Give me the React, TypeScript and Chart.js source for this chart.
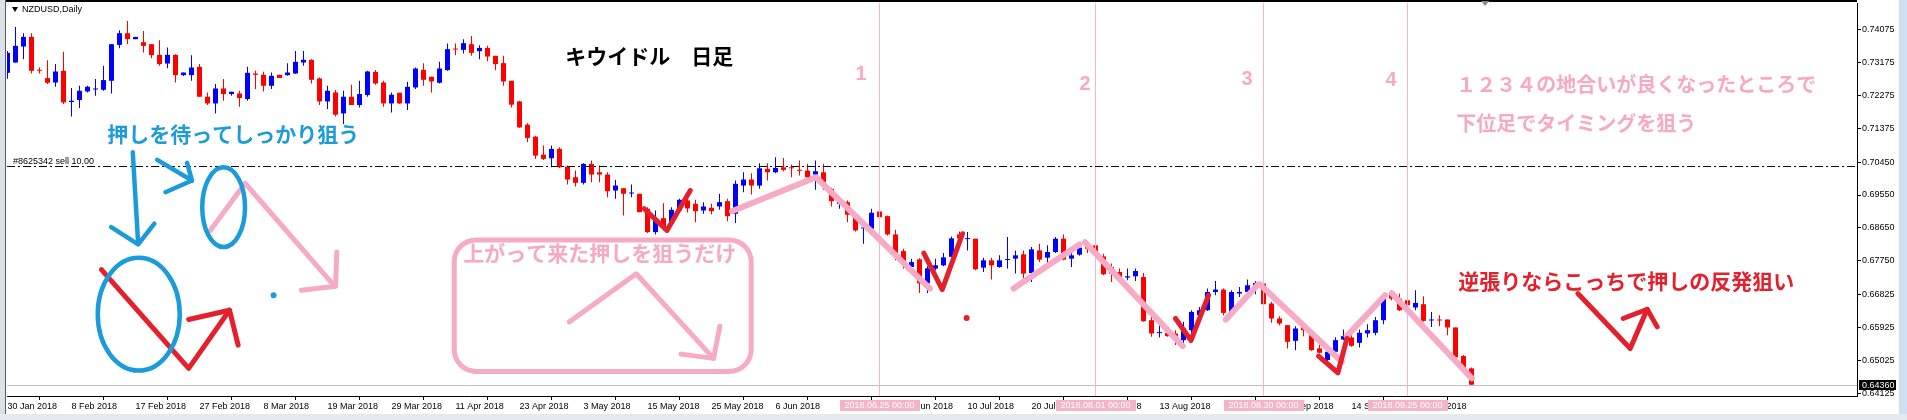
import React, { useEffect, useRef } from 'react';
import { Chart, registerables } from 'chart.js';

Chart.register(...registerables);

// ---------- NZDUSD daily OHLC (bar index 0 = 30 Jan 2018) ----------
const opens = [
  0.72893, 0.73174, 0.73611, 0.73876, 0.72975, 0.72748, 0.72628, 0.72948, 0.72094, 0.72148,
  0.72383, 0.72437, 0.72429, 0.72675, 0.73657, 0.73977, 0.73813, 0.73731, 0.73676, 0.73384,
  0.73147, 0.73384, 0.72830, 0.72830, 0.73057, 0.72238, 0.72055, 0.72465, 0.72312, 0.72328,
  0.72175, 0.72874, 0.72839, 0.72538, 0.72839, 0.72830, 0.72874, 0.73174, 0.73248, 0.72738,
  0.72110, 0.72356, 0.71782, 0.72238, 0.72012, 0.72285, 0.72920, 0.72628, 0.72055, 0.72347,
  0.72055, 0.72492, 0.72975, 0.72784, 0.72620, 0.72967, 0.73540, 0.73521, 0.73676, 0.73485,
  0.73575, 0.73357, 0.73158, 0.72675, 0.72110, 0.71474, 0.71147, 0.70655, 0.70554, 0.70811,
  0.70328, 0.70036, 0.69883, 0.70402, 0.70172, 0.70110, 0.69673, 0.69736, 0.69591, 0.69583,
  0.69174, 0.68535, 0.68917, 0.68764, 0.69127, 0.69400, 0.69310, 0.69127, 0.69201, 0.69236,
  0.69381, 0.69037, 0.69809, 0.69973, 0.69809, 0.70265, 0.70172, 0.70309, 0.70301, 0.70227,
  0.70219, 0.70110, 0.70172, 0.69719, 0.69310, 0.69354, 0.68944, 0.68636, 0.68628, 0.69100,
  0.68972, 0.68472, 0.68016, 0.67580, 0.67790, 0.67135, 0.67536, 0.67626, 0.67858, 0.68472,
  0.68344, 0.68355, 0.67563, 0.67763, 0.67580, 0.67771, 0.67809, 0.67926, 0.67416, 0.68035,
  0.67836, 0.67989, 0.68355, 0.67809, 0.67918, 0.68172, 0.68172, 0.67872, 0.67580, 0.67443,
  0.67290, 0.67326, 0.67307, 0.66125, 0.65770, 0.65779, 0.65762, 0.65579, 0.65852, 0.66262,
  0.66398, 0.66897, 0.66963, 0.66352, 0.66854, 0.66897, 0.67053, 0.67127, 0.66581, 0.66172,
  0.65989, 0.65560, 0.65942, 0.65716, 0.65353, 0.65034, 0.65260, 0.65598, 0.65653, 0.65506,
  0.65762, 0.65779, 0.66125, 0.66854, 0.66717, 0.66671, 0.66472, 0.66562, 0.66117, 0.66133,
  0.66144, 0.65926, 0.65143, 0.64807,
];
const highs = [
  0.73493, 0.74148, 0.73977, 0.73977, 0.73038, 0.73240, 0.73131, 0.73466, 0.72476, 0.72538,
  0.72538, 0.72721, 0.73084, 0.73676, 0.74058, 0.74312, 0.73876, 0.74039, 0.73676, 0.73786,
  0.73584, 0.73403, 0.72901, 0.73376, 0.73131, 0.72356, 0.72585, 0.72721, 0.72375, 0.72402,
  0.73057, 0.72948, 0.72920, 0.72901, 0.72839, 0.73158, 0.73493, 0.73493, 0.73267, 0.72765,
  0.72538, 0.72421, 0.72402, 0.72566, 0.72675, 0.72948, 0.72967, 0.72675, 0.72356, 0.72347,
  0.72648, 0.73038, 0.73158, 0.72784, 0.73193, 0.73693, 0.73693, 0.73813, 0.73903, 0.73649,
  0.73630, 0.73357, 0.73357, 0.72675, 0.72129, 0.71510, 0.71174, 0.70901, 0.70901, 0.70855,
  0.70355, 0.70219, 0.70418, 0.70492, 0.70355, 0.70172, 0.69965, 0.69736, 0.69837, 0.69583,
  0.69217, 0.69127, 0.69326, 0.69217, 0.69446, 0.69482, 0.69419, 0.69354, 0.69310, 0.69583,
  0.69446, 0.69946, 0.70172, 0.70145, 0.70418, 0.70418, 0.70582, 0.70565, 0.70382, 0.70492,
  0.70402, 0.70492, 0.70402, 0.69747, 0.69490, 0.69400, 0.68991, 0.68718, 0.69174, 0.69127,
  0.68991, 0.68600, 0.68082, 0.67809, 0.67817, 0.67599, 0.67809, 0.67962, 0.68418, 0.68554,
  0.68535, 0.68355, 0.67836, 0.67836, 0.67899, 0.68399, 0.68035, 0.68035, 0.68126, 0.68218,
  0.68172, 0.68399, 0.68472, 0.68035, 0.68262, 0.68289, 0.68218, 0.67945, 0.67673, 0.67536,
  0.67536, 0.67536, 0.67416, 0.66215, 0.66079, 0.65871, 0.65852, 0.66079, 0.66398, 0.66488,
  0.66990, 0.67198, 0.66990, 0.66944, 0.67034, 0.67236, 0.67198, 0.67127, 0.66625, 0.66234,
  0.65989, 0.65961, 0.66016, 0.65762, 0.65443, 0.65361, 0.65661, 0.65871, 0.65716, 0.65871,
  0.66016, 0.66215, 0.66854, 0.66944, 0.66854, 0.66726, 0.66944, 0.66780, 0.66352, 0.66262,
  0.66144, 0.65926, 0.65170, 0.64834,
];
const lows = [
  0.72729, 0.73166, 0.73267, 0.72874, 0.72874, 0.72585, 0.72511, 0.72039, 0.71701, 0.71930,
  0.72356, 0.72265, 0.72402, 0.72328, 0.73567, 0.73676, 0.73813, 0.73447, 0.73294, 0.73084,
  0.73021, 0.72628, 0.72803, 0.72675, 0.72238, 0.72012, 0.71782, 0.72129, 0.72265, 0.71965,
  0.72129, 0.72448, 0.72383, 0.72448, 0.72748, 0.72811, 0.72858, 0.73084, 0.72601, 0.72012,
  0.71903, 0.71701, 0.71493, 0.72012, 0.71946, 0.72238, 0.72566, 0.71965, 0.71810, 0.72039,
  0.71875, 0.72448, 0.72538, 0.72356, 0.72601, 0.72948, 0.73376, 0.73420, 0.73357, 0.73262,
  0.73212, 0.72967, 0.72538, 0.71946, 0.71384, 0.70991, 0.70538, 0.70511, 0.70309, 0.70292,
  0.69837, 0.69782, 0.69837, 0.69899, 0.69899, 0.69490, 0.69446, 0.68991, 0.69490, 0.69081,
  0.68508, 0.68472, 0.68581, 0.68718, 0.69081, 0.69073, 0.68808, 0.69037, 0.69018, 0.69146,
  0.68835, 0.68781, 0.69627, 0.69564, 0.69719, 0.69946, 0.70145, 0.70200, 0.70036, 0.70082,
  0.70020, 0.69692, 0.69692, 0.69236, 0.69174, 0.68808, 0.68554, 0.68218, 0.68600, 0.68928,
  0.68445, 0.67763, 0.67536, 0.67490, 0.66870, 0.66870, 0.67490, 0.67599, 0.67844, 0.68308,
  0.68035, 0.67490, 0.67443, 0.67236, 0.67563, 0.67536, 0.67400, 0.67263, 0.67170, 0.67716,
  0.67689, 0.67962, 0.67763, 0.67580, 0.67891, 0.67962, 0.67981, 0.67353, 0.67170, 0.67263,
  0.67217, 0.67198, 0.66079, 0.65670, 0.65653, 0.65670, 0.65443, 0.65489, 0.65579, 0.66215,
  0.66379, 0.66807, 0.66262, 0.66308, 0.66761, 0.66835, 0.66835, 0.66535, 0.66052, 0.65989,
  0.65353, 0.65306, 0.65689, 0.65287, 0.65216, 0.65006, 0.65216, 0.65579, 0.65397, 0.65380,
  0.65653, 0.65716, 0.66016, 0.66671, 0.66379, 0.66507, 0.66398, 0.66079, 0.65942, 0.65961,
  0.65716, 0.65080, 0.64780, 0.64324,
];
const closes = [
  0.73439, 0.73630, 0.73876, 0.72948, 0.72948, 0.72620, 0.72929, 0.72083, 0.72129, 0.72402,
  0.72511, 0.72456, 0.72694, 0.73676, 0.73977, 0.73813, 0.73876, 0.73630, 0.73376, 0.73131,
  0.73384, 0.72830, 0.72901, 0.73038, 0.72238, 0.72055, 0.72465, 0.72312, 0.72375, 0.72203,
  0.72893, 0.72839, 0.72538, 0.72811, 0.72748, 0.72901, 0.73193, 0.73248, 0.72702, 0.72110,
  0.72402, 0.71747, 0.72238, 0.72012, 0.72312, 0.72929, 0.72601, 0.72055, 0.72293, 0.72055,
  0.72511, 0.73010, 0.72702, 0.72656, 0.73010, 0.73540, 0.73529, 0.73704, 0.73439, 0.73575,
  0.73338, 0.73131, 0.72656, 0.72020, 0.71400, 0.71111, 0.70628, 0.70538, 0.70811, 0.70309,
  0.69973, 0.69883, 0.70402, 0.70110, 0.70110, 0.69654, 0.69809, 0.69583, 0.69610, 0.69081,
  0.68535, 0.68901, 0.68655, 0.69146, 0.69419, 0.69182, 0.69108, 0.69236, 0.69108, 0.69354,
  0.68972, 0.69856, 0.69973, 0.69809, 0.70281, 0.70172, 0.70292, 0.70238, 0.70281, 0.70211,
  0.70036, 0.70200, 0.69899, 0.69381, 0.69400, 0.69010, 0.68581, 0.68655, 0.69064, 0.68944,
  0.68472, 0.67945, 0.67716, 0.67716, 0.67135, 0.67544, 0.67626, 0.67844, 0.68363, 0.68363,
  0.68363, 0.67517, 0.67763, 0.67626, 0.67763, 0.67790, 0.67899, 0.67400, 0.68063, 0.67782,
  0.67989, 0.68355, 0.67782, 0.67899, 0.68109, 0.68082, 0.67989, 0.67381, 0.67400, 0.67290,
  0.67326, 0.67471, 0.66098, 0.65762, 0.65790, 0.65689, 0.65670, 0.65899, 0.66352, 0.66398,
  0.66897, 0.66963, 0.66324, 0.66897, 0.66897, 0.67080, 0.67143, 0.66562, 0.66172, 0.66035,
  0.65533, 0.65899, 0.65852, 0.65306, 0.65233, 0.65260, 0.65579, 0.65689, 0.65424, 0.65779,
  0.65852, 0.66125, 0.66761, 0.66717, 0.66398, 0.66535, 0.66597, 0.66106, 0.66133, 0.66117,
  0.65926, 0.65107, 0.64807, 0.64360,
];

// ---------- axes ----------
const xTickBars = [0, 8, 16, 24, 32, 40, 48, 56, 64, 72, 80, 88, 96, 104, 112, 120, 128, 136, 144, 152, 160, 168, 176];
const xTickLabels = [
  '30 Jan 2018', '8 Feb 2018', '17 Feb 2018', '27 Feb 2018', '8 Mar 2018', '19 Mar 2018',
  '29 Mar 2018', '11 Apr 2018', '23 Apr 2018', '3 May 2018', '15 May 2018', '25 May 2018',
  '6 Jun 2018', '18 Jun 2018', '28 Jun 2018', '10 Jul 2018', '20 Jul 2018', '1 Aug 2018',
  '13 Aug 2018', '23 Aug 2018', '4 Sep 2018', '14 Sep 2018', '26 Sep 2018',
];
const yTickValues = [0.74075, 0.73175, 0.72275, 0.71375, 0.7045, 0.6955, 0.6865, 0.6775, 0.66825, 0.65925, 0.65025, 0.64125];
const X_MIN = -0.0625;
const X_MAX = 231.1875;
const Y_MIN = 0.64051;
const Y_MAX = 0.74803;

// ---------- chart objects ----------
const vLineBars = [109, 136, 157, 175];
const vLineDates = ['2018.06.25 00:00', '2018.08.01 00:00', '2018.08.30 00:00', '2018.09.25 00:00'];
const vLineNumbers = ['1', '2', '3', '4'];
const numberBars = [106.71, 134.71, 154.96, 172.96];
const numberPrices = [0.72839, 0.72566, 0.72702, 0.72675];
const sellPrice = 0.7034;
const sellLabel = '#8625342 sell 10.00';
const bidPrice = 0.6436;
const symbolLabel = 'NZDUSD,Daily';

const pinkTrend = [
  [[90.55, 0.69108], [101.05, 0.70036], [115.3, 0.6699]],
  [[125.75, 0.6699], [134.0, 0.68199]],
  [[134.68, 0.68262], [146.9, 0.65416]],
  [[152.3, 0.66144], [156.3, 0.671]],
  [[156.59, 0.671], [166.8, 0.64987]],
  [[167.4, 0.65689], [172.2, 0.66807]],
  [[173.05, 0.66854], [183.05, 0.64534]],
];
const pinkArrows = [
  [[25.35, 0.68581], [29.69, 0.69872], [40.91, 0.67053]],
  [[36.73, 0.66944], [41.01, 0.67053], [41.16, 0.67989]],
  [[70.23, 0.66079], [78.59, 0.67394], [88.26, 0.6508]],
  [[84.19, 0.65197], [88.26, 0.6508], [89.04, 0.65961]],
];
const redPaths = [
  [[79.59, 0.69174], [82.43, 0.68581], [85.34, 0.69673]],
  [[114.54, 0.67962], [116.84, 0.66963], [119.38, 0.68491]],
  [[146.0, 0.66172], [147.94, 0.65571], [150.13, 0.66807]],
  [[163.88, 0.65143], [166.3, 0.64687], [167.43, 0.65626]],
  [[11.74, 0.67509], [22.65, 0.64807], [27.75, 0.66398]],
  [[22.65, 0.66144], [27.75, 0.66398], [28.83, 0.65443]],
  [[196.3, 0.66854], [202.84, 0.65353], [204.96, 0.66425]],
  [[201.96, 0.66172], [204.96, 0.66425], [206.21, 0.65942]],
];
const bluePaths = [
  [[15.66, 0.70718], [16.33, 0.68218]],
  [[12.96, 0.68671], [16.33, 0.68199], [18.36, 0.68764]],
  [[18.71, 0.70511], [23.06, 0.69946]],
  [[19.74, 0.69627], [23.06, 0.69946], [22.45, 0.70429]],
];
const blueEllipses = [
  [24.34, 29.69, 0.70309, 0.68126],
  [11.28, 21.53, 0.67831, 0.64747],
];
const blueDots = [[33.26, 0.66807]];
const redDots = [[119.89, 0.66188]];
const boxCorners = [55.84, 92.96, 0.68322, 0.6472];

const notes = [
  { text: 'キウイドル　日足', x: 69.71, y: 0.73357, color: '#000000', size: 21 },
  { text: '押しを待ってしっかり狙う', x: 12.46, y: 0.71228, color: '#1C9BDB', size: 21 },
  { text: '上がって来た押しを狙うだけ', x: 56.96, y: 0.67954, color: '#F6A8C5', size: 21 },
  { text: '１２３４の地合いが良くなったところで', x: 181.09, y: 0.72579, color: '#F6A8C5', size: 20 },
  { text: '下位足でタイミングを狙う', x: 181.09, y: 0.71501, color: '#F6A8C5', size: 20 },
  { text: '逆張りならこっちで押しの反発狙い', x: 181.34, y: 0.67189, color: '#E3202B', size: 21 },
];

const UP = '#0000FF';
const DOWN = '#FF0000';
const PINK = '#F7AAC6';
const RED = '#E3202B';
const BLUE = '#1C9BDB';
const VLINE = '#F3B7CA';
const CJK = '"Noto Sans CJK JP", "Noto Sans CJK SC", sans-serif';
const LAT = '"Liberation Sans", Arial, sans-serif';

const lineDs = (pts: number[][], color: string, width: number, order: number) => ({
  type: 'line',
  data: pts.map(([x, y]) => ({ x, y })),
  borderColor: color,
  borderWidth: width,
  pointRadius: 0,
  pointHoverRadius: 0,
  fill: false,
  tension: 0,
  borderCapStyle: 'round',
  borderJoinStyle: 'round',
  order,
});
const dotDs = (pts: number[][], color: string, order: number) => ({
  type: 'line',
  data: pts.map(([x, y]) => ({ x, y })),
  showLine: false,
  pointRadius: 3,
  pointHoverRadius: 3,
  pointBackgroundColor: color,
  pointBorderWidth: 0,
  order,
});

const overlay = {
  id: 'mt4overlay',
  beforeDraw(chart: any) {
    const { ctx, width, height } = chart;
    ctx.save();
    ctx.fillStyle = '#FFFFFF';
    ctx.fillRect(0, 0, width, height);
    ctx.fillStyle = '#DCE2EA';
    ctx.fillRect(0, 0, 5, height);
    ctx.fillStyle = '#E4E9EF';
    ctx.fillRect(0, 414, width, 6);
    ctx.fillStyle = '#CFE0F2';
    ctx.fillRect(1899, 0, 8, 414);
    ctx.restore();
  },
  afterDatasetDraw(chart: any, args: any) {
    if (args.index !== 1) return;
    const { ctx, chartArea: a } = chart;
    const x = chart.scales.x;
    const y = chart.scales.y;
    ctx.save();
    ctx.lineWidth = 1;
    ctx.strokeStyle = VLINE;
    vLineBars.forEach((b) => {
      const X = Math.round(x.getPixelForValue(b) - 0.5) + 0.5;
      ctx.beginPath();
      ctx.moveTo(X, a.top);
      ctx.lineTo(X, a.bottom);
      ctx.stroke();
    });
    const by = Math.round(y.getPixelForValue(bidPrice)) + 0.5;
    ctx.strokeStyle = '#C0C0C0';
    ctx.beginPath();
    ctx.moveTo(a.left, by);
    ctx.lineTo(a.right, by);
    ctx.stroke();
    const sy = Math.round(y.getPixelForValue(sellPrice)) + 0.5;
    ctx.strokeStyle = '#000000';
    ctx.setLineDash([8, 3, 2, 3]);
    ctx.beginPath();
    ctx.moveTo(a.left, sy);
    ctx.lineTo(a.right, sy);
    ctx.stroke();
    ctx.restore();
  },
  afterDatasetsDraw(chart: any) {
    const { ctx, chartArea: a } = chart;
    const x = chart.scales.x;
    const y = chart.scales.y;
    ctx.save();
    // ellipses
    ctx.strokeStyle = BLUE;
    ctx.lineWidth = 4.5;
    blueEllipses.forEach(([x0, x1, y0, y1]) => {
      const l = x.getPixelForValue(x0), r = x.getPixelForValue(x1);
      const t = y.getPixelForValue(y0), b = y.getPixelForValue(y1);
      ctx.beginPath();
      ctx.ellipse((l + r) / 2, (t + b) / 2, (r - l) / 2, (b - t) / 2, 0, 0, Math.PI * 2);
      ctx.stroke();
    });
    // rounded box
    {
      const [x0, x1, y0, y1] = boxCorners;
      const l = x.getPixelForValue(x0), r = x.getPixelForValue(x1);
      const t = y.getPixelForValue(y0), b = y.getPixelForValue(y1);
      const rad = 22;
      ctx.strokeStyle = PINK;
      ctx.lineWidth = 5;
      ctx.beginPath();
      ctx.moveTo(l + rad, t);
      ctx.lineTo(r - rad, t);
      ctx.arcTo(r, t, r, t + rad, rad);
      ctx.lineTo(r, b - rad);
      ctx.arcTo(r, b, r - rad, b, rad);
      ctx.lineTo(l + rad, b);
      ctx.arcTo(l, b, l, b - rad, rad);
      ctx.lineTo(l, t + rad);
      ctx.arcTo(l, t, l + rad, t, rad);
      ctx.closePath();
      ctx.stroke();
    }
    // texts
    ctx.textBaseline = 'middle';
    ctx.textAlign = 'left';
    notes.forEach((n) => {
      ctx.font = `bold ${n.size}px ${CJK}`;
      ctx.fillStyle = n.color;
      ctx.fillText(n.text, x.getPixelForValue(n.x), y.getPixelForValue(n.y));
    });
    ctx.textAlign = 'center';
    ctx.font = `bold 20px ${LAT}`;
    ctx.fillStyle = PINK;
    vLineNumbers.forEach((t, i) => {
      ctx.fillText(t, x.getPixelForValue(numberBars[i]), y.getPixelForValue(numberPrices[i]));
    });
    // symbol + order label
    ctx.textAlign = 'left';
    ctx.fillStyle = '#000000';
    ctx.font = `9px ${LAT}`;
    ctx.fillText(symbolLabel, a.left + 15, a.top + 7);
    ctx.beginPath();
    ctx.moveTo(a.left + 5, a.top + 4);
    ctx.lineTo(a.left + 11, a.top + 4);
    ctx.lineTo(a.left + 8, a.top + 9);
    ctx.closePath();
    ctx.fill();
    ctx.fillText(sellLabel, a.left + 6, y.getPixelForValue(sellPrice) - 5);
    ctx.restore();
  },
  afterDraw(chart: any) {
    const { ctx, chartArea: a } = chart;
    const x = chart.scales.x;
    const y = chart.scales.y;
    ctx.save();
    // date boxes on the time axis
    ctx.font = `9px ${LAT}`;
    ctx.textBaseline = 'middle';
    ctx.textAlign = 'center';
    vLineBars.forEach((b, i) => {
      const X = x.getPixelForValue(b);
      ctx.fillStyle = '#F5B3C7';
      ctx.fillRect(Math.round(X - 40), a.bottom + 4, 80, 11);
      ctx.fillStyle = '#FFFFFF';
      ctx.fillText(vLineDates[i], X, a.bottom + 10);
    });
    // bid price box
    const by = y.getPixelForValue(bidPrice);
    ctx.fillStyle = '#000000';
    ctx.fillRect(a.right + 2, Math.round(by) - 5, 37, 10);
    ctx.fillStyle = '#FFFFFF';
    ctx.textAlign = 'left';
    ctx.fillText(bidPrice.toFixed(5), a.right + 5, Math.round(by) + 0.5);
    // frame
    ctx.fillStyle = '#000000';
    ctx.fillRect(5, 0, a.right - 5, 2);
    ctx.fillStyle = '#5A5A5A';
    ctx.fillRect(5, 0, 1, 414);
    // chart shift marker
    const sx = x.getPixelForValue(184.7);
    ctx.fillStyle = '#8A8A8A';
    ctx.beginPath();
    ctx.moveTo(sx - 4, 1);
    ctx.lineTo(sx + 4, 1);
    ctx.lineTo(sx, 6);
    ctx.closePath();
    ctx.fill();
    ctx.restore();
  },
};

export default function App() {
  const ref = useRef<HTMLCanvasElement>(null);
  useEffect(() => {
    document.body.style.margin = '0';
    const canvas = ref.current!;
    const colors = closes.map((c, i) => (c >= opens[i] ? UP : DOWN));
    const wickData = lows.map((l, i) => ({ x: i, y: [l, highs[i]] }));
    const bodyData = opens.map((o, i) => ({ x: i, y: [o, closes[i]] }));

    const datasets: any[] = [
      {
        type: 'bar', data: wickData, backgroundColor: colors, barThickness: 1, grouped: false,
        order: 21, inflateAmount: 0, borderWidth: 0, minBarLength: 1,
      },
      {
        type: 'bar', data: bodyData, backgroundColor: colors, barThickness: 5, grouped: false,
        order: 20, inflateAmount: 0, borderWidth: 0, minBarLength: 1,
      },
      ...pinkTrend.map((p) => lineDs(p, PINK, 6, 4)),
      ...pinkArrows.map((p) => lineDs(p, PINK, 5, 4)),
      ...redPaths.map((p) => lineDs(p, RED, 5, 3)),
      ...bluePaths.map((p) => lineDs(p, BLUE, 4.5, 2)),
      dotDs(blueDots, BLUE, 1),
      dotDs(redDots, RED, 1),
    ];

    const chart = new Chart(canvas, {
      type: 'bar',
      data: { datasets },
      options: {
        responsive: false,
        maintainAspectRatio: false,
        devicePixelRatio: 1,
        animation: false,
        events: [],
        layout: { padding: { left: 7, top: 2, right: 0, bottom: 0 } },
        plugins: { legend: { display: false }, tooltip: { enabled: false } },
        scales: {
          x: {
            type: 'linear',
            min: X_MIN,
            max: X_MAX,
            offset: false,
            afterBuildTicks: (s: any) => { s.ticks = xTickBars.map((v) => ({ value: v })); },
            afterFit: (s: any) => { s.height = 24; s.paddingLeft = 0; s.paddingRight = 0; },
            ticks: {
              autoSkip: false, maxRotation: 0, minRotation: 0, align: 'start', padding: 1,
              font: { family: LAT, size: 9 }, color: '#000000',
              callback: (_v: any, i: number) => xTickLabels[i] ?? '',
            },
            grid: { display: true, drawOnChartArea: false, drawTicks: true, tickLength: 4, color: '#000000' },
            border: { display: true, color: '#000000', width: 1 },
          },
          y: {
            type: 'linear',
            position: 'right',
            min: Y_MIN,
            max: Y_MAX,
            afterBuildTicks: (s: any) => { s.ticks = yTickValues.map((v) => ({ value: v })); },
            afterFit: (s: any) => { s.width = 50; s.paddingTop = 0; s.paddingBottom = 0; },
            ticks: {
              autoSkip: false, padding: 1, font: { family: LAT, size: 9 }, color: '#000000',
              callback: (v: any) => Number(v).toFixed(5),
            },
            grid: { display: true, drawOnChartArea: false, drawTicks: true, tickLength: 4, color: '#000000' },
            border: { display: true, color: '#000000', width: 1 },
          },
        },
      } as any,
      plugins: [overlay],
    } as any);
    return () => chart.destroy();
  }, []);
  return <canvas ref={ref} width={1907} height={420} style={{ display: 'block', width: 1907, height: 420 }} />;
}
